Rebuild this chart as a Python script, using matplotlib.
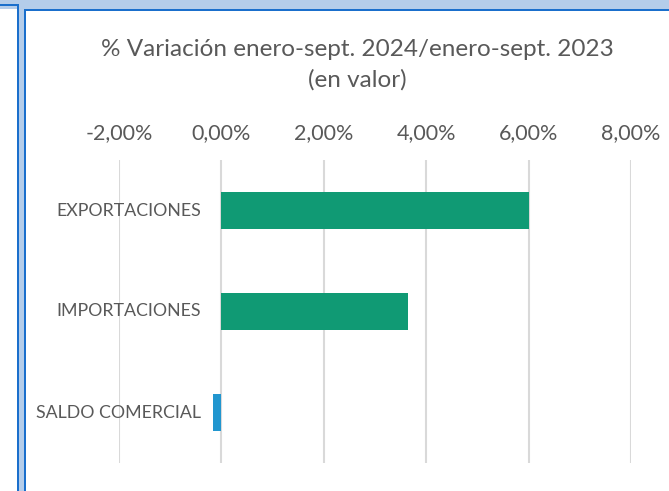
import numpy as np
import matplotlib.pyplot as plt
from matplotlib.patches import Rectangle

# datos: variación ene-sept 2024 / ene-sept 2023 (en valor)
categorias = ['EXPORTACIONES', 'IMPORTACIONES', 'SALDO COMERCIAL']
variacion = [6.00, 3.65, -0.17]
colores = ['#109a74', '#109a74', '#2196cf']
ticks = [-2, 0, 2, 4, 6, 8]

plt.rcParams['font.family'] = ['Lato', 'DejaVu Sans']
gris = '#595959'

W, H = 669, 491
fig = plt.figure(figsize=(W / 100, H / 100), dpi=100)

def px(x0, y0, w, h, **kw):
    # rectangulo en pixeles (origen arriba a la izquierda)
    fig.patches.append(Rectangle((x0 / W, 1 - (y0 + h) / H), w / W, h / H,
                                 transform=fig.transFigure, lw=0, **kw))

# marco tipo hoja de calculo
azul_claro = '#b4cdea'
azul = '#1a6fcc'
px(0, 0, W, 9, color=azul_claro)
px(17, 0, 9, H, color=azul_claro)
px(0, 0, 17, 4, color=azul_claro)
px(0, 4, 18, 1.5, color=azul)
px(17, 4, 2, H, color=azul)
px(24.5, 9, 2, H, color=azul)
px(24.5, 8.5, W, 2, color=azul)

ax = fig.add_axes([119 / W, 1 - 463 / H, (631 - 119) / W, (463 - 160) / H])
y = np.arange(len(categorias))
ax.barh(y, variacion, height=0.36, color=colores, zorder=3)
ax.set_ylim(2.5, -0.5)
ax.set_xlim(-2, 8)
ax.set_xticks(ticks)
ax.set_xticklabels([f'{t:.2f}%'.replace('.', ',') for t in ticks], fontsize=15.5, color=gris)
ax.xaxis.tick_top()
ax.tick_params(axis='x', length=0, pad=12)
ax.set_yticks([])
for s in ax.spines.values():
    s.set_visible(False)
for t in ticks:
    ax.axvline(t, color='#d9d9d9', lw=1.5, zorder=1)

for i, c in enumerate(categorias):
    ax.text(-0.4, i, c, ha='right', va='center', fontsize=12.8, color=gris, zorder=4)

fig.text(357 / W, 1 - 65 / H, '% Variación enero-sept. 2024/enero-sept. 2023\n(en valor)',
         ha='center', va='center', fontsize=17.5, color=gris, linespacing=1.5)

fig.savefig('out.png', dpi=100)
